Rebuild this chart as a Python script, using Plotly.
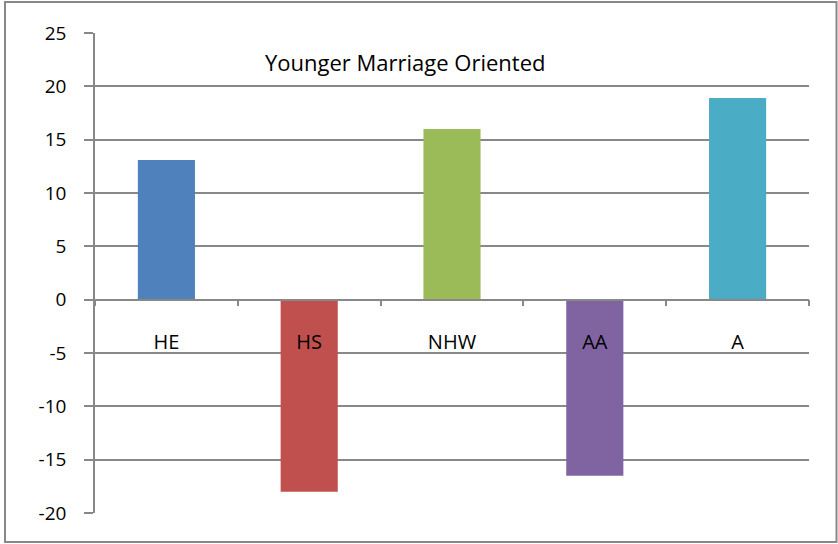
import plotly.graph_objects as go

categories = ["HE", "HS", "NHW", "AA", "A"]
values = [13.1, -18.0, 16.0, -16.5, 18.9]
colors = ["#4F81BD", "#C0504D", "#9BBB59", "#8064A2", "#4BACC6"]
y_ticks = [25, 20, 15, 10, 5, 0, -5, -10, -15, -20]
title_text = "Younger Marriage Oriented"

FONT = "Open Sans"
W, H = 838, 544
L, R, T, B = 95, 29, 33, 31
pw, ph = W - L - R, H - T - B
ymin, ymax = -20, 25

fig = go.Figure()
fig.add_trace(go.Bar(x=categories, y=values, marker=dict(color=colors, line=dict(width=0)),
                     width=0.4, showlegend=False, hoverinfo="skip"))

zero_pos = (0 - ymin) / (ymax - ymin)

fig.update_layout(
    width=W, height=H,
    margin=dict(l=L, r=R, t=T, b=B),
    paper_bgcolor="white", plot_bgcolor="white",
    font=dict(family=FONT, size=18, color="black"),
    xaxis=dict(
        type="category", anchor="free", position=zero_pos,
        showline=True, linecolor="#888888", linewidth=1.5,
        ticks="outside", ticklen=6, tickcolor="#888888", tickwidth=1.5,
        tickson="boundaries", showgrid=False, zeroline=False,
        ticklabelstandoff=25, tickfont=dict(family=FONT, size=20),
        range=[-0.5, 4.5],
    ),
    yaxis=dict(
        range=[ymin, ymax], tickvals=y_ticks, ticktext=[str(v) for v in y_ticks],
        showgrid=True, gridcolor="#888888", gridwidth=1.5,
        showline=True, linecolor="#888888", linewidth=1.5,
        ticks="outside", ticklen=9, tickcolor="#888888", tickwidth=1.5,
        zeroline=False, tickfont=dict(family=FONT, size=19),
        ticklabelstandoff=14,
    ),
    annotations=[dict(
        text=title_text, xref="paper", yref="paper",
        x=(405 - L) / pw, y=(H - B - 62) / ph, xanchor="center", yanchor="middle",
        showarrow=False, font=dict(family=FONT, size=22, color="black"),
    )],
    shapes=[dict(
        type="rect", xref="paper", yref="paper",
        x0=(5 - L) / pw, x1=(836.5 - L) / pw,
        y0=(H - B - 542) / ph, y1=(H - B - 2) / ph,
        line=dict(color="#888888", width=2), fillcolor="rgba(0,0,0,0)",
    )],
)

fig.write_html("out.html", config={"displayModeBar": False},
               post_script="document.body.style.margin='0';")
